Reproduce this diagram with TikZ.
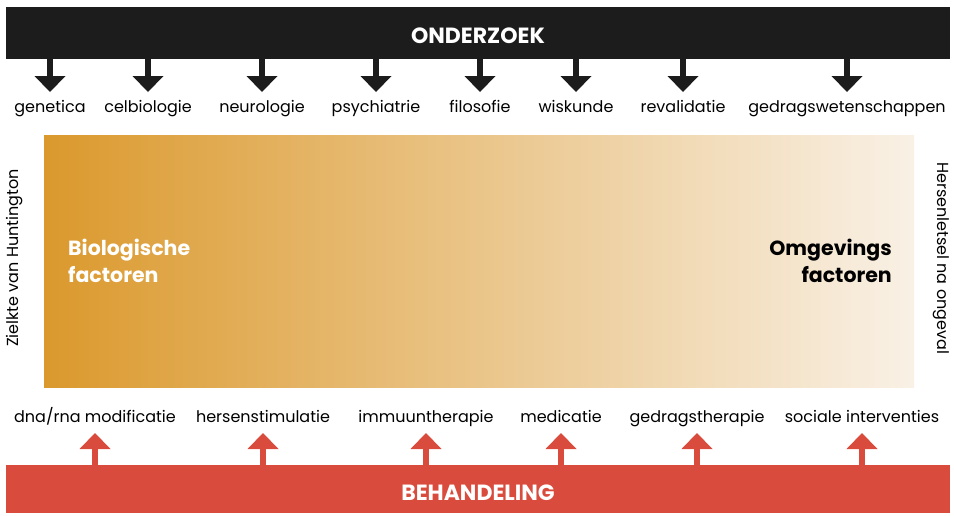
\documentclass[tikz,border=0pt]{standalone}
\usepackage{fontspec}
\setmainfont{Poppins}
\definecolor{barblack}{HTML}{1C1C1C}
\definecolor{barred}{HTML}{D94C3D}
\definecolor{gradL}{HTML}{DB992D}
\definecolor{gradR}{HTML}{F9F1E6}
\begin{document}
\begin{tikzpicture}[x=1pt,y=-1pt,
  lbl/.style={font=\fontsize{16}{18}\selectfont, text=black, inner sep=0pt, anchor=base},
  bartitle/.style={font=\bfseries\fontsize{22}{24}\selectfont, text=white, inner sep=0pt},
  big/.style={font=\bfseries\fontsize{20.5}{27}\selectfont, inner sep=0pt},
  side/.style={font=\fontsize{16}{18}\selectfont, inner sep=0pt}]
\useasboundingbox (0,0) rectangle (954,515);
% top bar
\fill[barblack] (6,7) rectangle (950,59);
\node[bartitle] (onderzoek) at (478,35.5) {ONDERZOEK};
% bottom bar
\fill[barred] (6,465) rectangle (950,513);
\node[bartitle] (behandeling) at (478,492.5) {BEHANDELING};
% gradient
\shade[left color=gradL, right color=gradR] (44,135) rectangle (914,387);
\node[big, text=white, align=left, anchor=west] (bio) at (68,261) {Biologische\\factoren};
\node[big, text=black, align=right, anchor=east] (omg) at (892,261) {Omgevings\\factoren};
% side labels
\node[side, rotate=90] (zielkte) at (15,258) {Zielkte van Huntington};
\node[side, rotate=-90] (hersen) at (941,258) {Hersenletsel na ongeval};
% top arrows and labels
\foreach \x/\t/\n in {50/genetica/t1,148/celbiologie/t2,262/neurologie/t3,376/psychiatrie/t4,480/filosofie/t5,576/wiskunde/t6,683/revalidatie/t7,847/gedragswetenschappen/t8}{
  \fill[barblack] (\x-2.7,59) rectangle (\x+2.7,76);
  \fill[barblack] (\x-15.5,76) -- (\x+15.5,76) -- (\x,92) -- cycle;
  \node[lbl] (\n) at (\x,112) {\t};
}
% bottom arrows and labels
\foreach \x/\t/\n in {95/dna\slash rna modificatie/b1,263/hersenstimulatie/b2,426/immuuntherapie/b3,561/medicatie/b4,697/gedragstherapie/b5,862/sociale interventies/b6}{
  \fill[barred] (\x-2.7,449) rectangle (\x+2.7,466);
  \fill[barred] (\x-15.5,449) -- (\x+15.5,449) -- (\x,433) -- cycle;
  \node[lbl] (\n) at (\x,422) {\t};
}
\end{tikzpicture}
\end{document}
